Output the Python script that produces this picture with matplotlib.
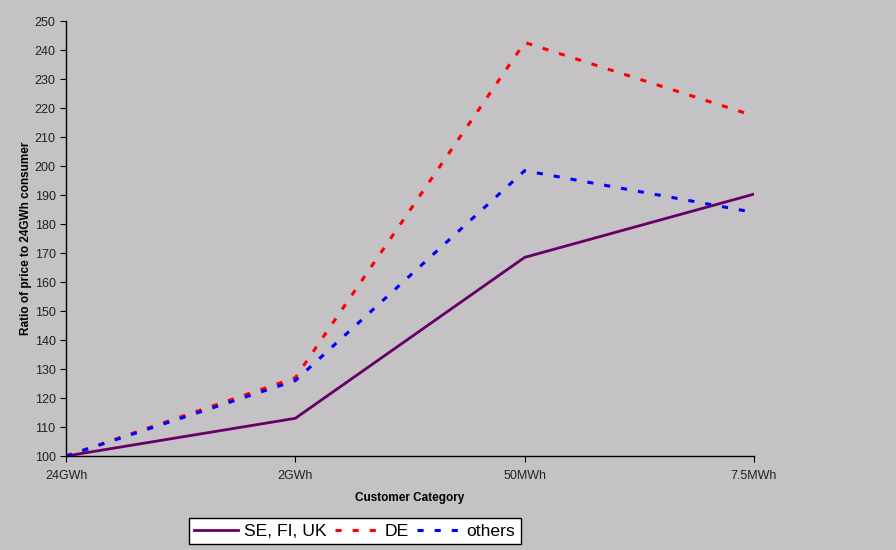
import matplotlib
matplotlib.use("Agg")
import matplotlib.pyplot as plt
import numpy as np

categories = ["24GWh", "2GWh", "50MWh", "7.5MWh"]
se_fi_uk = [100, 113, 168.5, 190.3]
de = [100, 127, 242.6, 217.3]
others = [100, 126, 198.4, 184]

plt.rcParams.update({
    "font.family": ["Liberation Sans", "DejaVu Sans"],
})

BG = "#c4c2c5"
fig = plt.figure(figsize=(8.96, 5.5), dpi=100, facecolor=BG)
ax = fig.add_axes([0.0737, 0.1709, 0.7678, 0.7909])
ax.set_facecolor(BG)

x = np.arange(len(categories))
ax.plot(x, se_fi_uk, color="#660066", linewidth=2.0, label="SE, FI, UK")
ax.plot(x, de, color="#ff0000", linewidth=2.2, linestyle=(0, (2.0, 3.6)), label="DE")
ax.plot(x, others, color="#0000ff", linewidth=2.2, linestyle=(0, (2.0, 3.6)), label="others")

ax.set_xlim(0, 3)
ax.set_ylim(100, 250)
ax.set_yticks(np.arange(100, 251, 10))
ax.set_xticks(x)
ax.set_xticklabels(categories)
for s in ("top", "right"):
    ax.spines[s].set_visible(False)
for s in ("left", "bottom"):
    ax.spines[s].set_linewidth(1.0)
ax.tick_params(axis="both", labelsize=9, colors="black", labelcolor="#222222",
               length=4, width=0.8)
ax.tick_params(axis="x", pad=6)

ax.set_xlabel("Customer Category", fontsize=8.5, fontweight="bold", labelpad=7)
ax.set_ylabel("Ratio of price to 24GWh consumer", fontsize=8.5, fontweight="bold", labelpad=2)

leg = fig.legend(loc="center", bbox_to_anchor=(0.396, 0.0345), ncol=3, fontsize=12.6,
                 frameon=True, fancybox=False, edgecolor="black", facecolor="white",
                 framealpha=1, handlelength=2.5, handletextpad=0.35, columnspacing=0.45,
                 borderpad=0.3, borderaxespad=0)
leg.get_frame().set_linewidth(1.0)

fig.savefig("out.png", dpi=100, facecolor=BG)
